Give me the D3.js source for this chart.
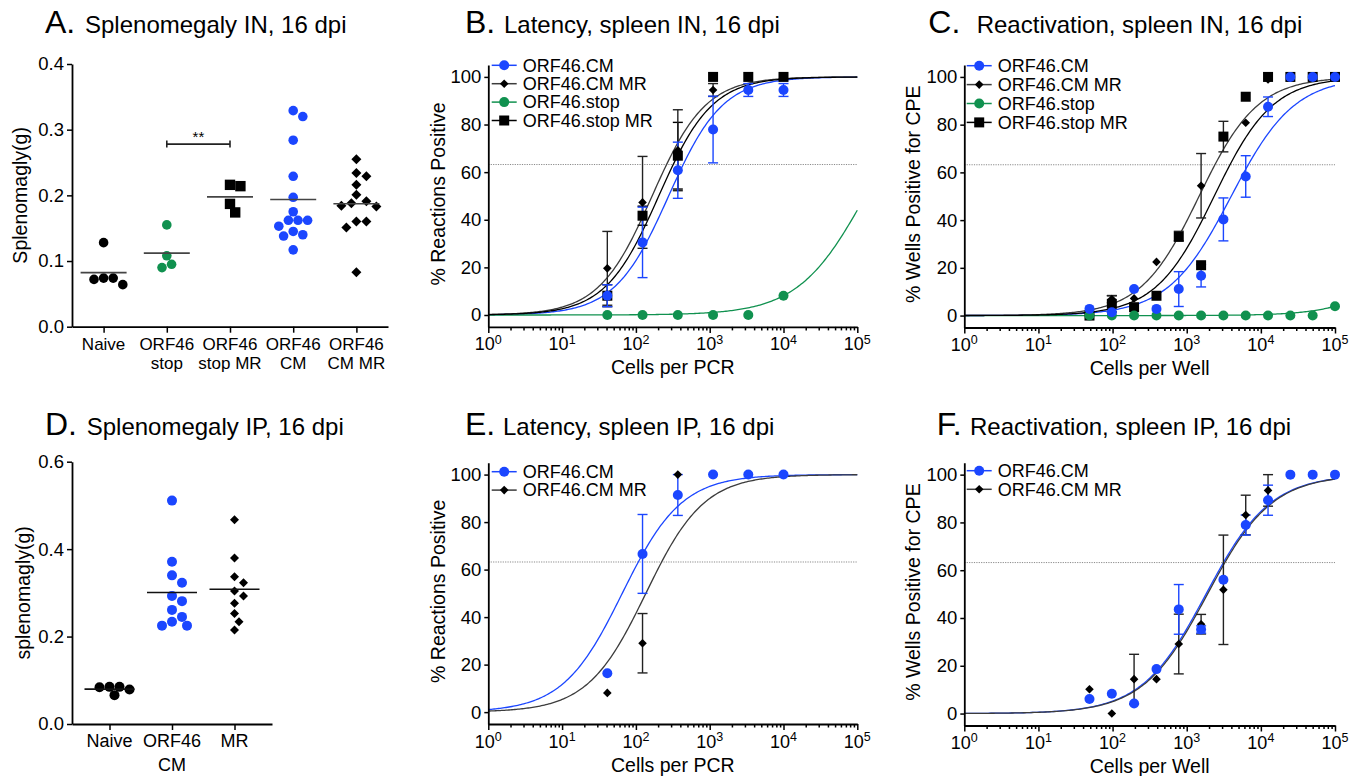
<!doctype html>
<html>
<head>
<style>
  body { margin: 0; background: #fff; }
  svg text { font-family: "Liberation Sans", Arial, Helvetica, sans-serif; }
</style>
</head>
<body>
<svg id="fig" width="1364" height="776"></svg>
<script src="https://d3js.org/d3.v7.min.js"></script>
<script>
// ---------- data ----------
// A. spleen weight (g), intranasal
const splenoINGroups = ['Naive', 'ORF46 stop', 'ORF46 stop MR', 'ORF46 CM', 'ORF46 CM MR'];
const splenoINLabels = [['Naive'], ['ORF46', 'stop'], ['ORF46', 'stop MR'], ['ORF46', 'CM'], ['ORF46', 'CM MR']];
const splenoINNaive = [0.128, 0.074, 0.064, 0.072, 0.074];
const splenoINStop = [0.155, 0.108, 0.090, 0.095];
const splenoINStopMR = [0.216, 0.214, 0.187, 0.174];
const splenoINCM = [0.329, 0.320, 0.284, 0.229, 0.197, 0.175, 0.162, 0.162, 0.162, 0.153, 0.145, 0.140, 0.138, 0.117];
const splenoINCMMR = [0.255, 0.234, 0.229, 0.216, 0.201, 0.191, 0.188, 0.184, 0.183, 0.160, 0.160, 0.151, 0.083];
const splenoINTicks = [0, 0.1, 0.2, 0.3, 0.4];
const splenoINSig = ['ORF46 stop', 'ORF46 stop MR'];
const splenoINSigY = 0.278;

// D. spleen weight (g), intraperitoneal
const splenoIPGroups = ['Naive', 'ORF46', 'MR'];
const splenoIPNaive = [0.085, 0.084, 0.066, 0.079, 0.085];
const splenoIPCM = [0.511, 0.371, 0.340, 0.323, 0.293, 0.281, 0.261, 0.245, 0.234, 0.225, 0.225];
const splenoIPMR = [0.467, 0.380, 0.337, 0.323, 0.304, 0.293, 0.276, 0.253, 0.234, 0.215];
const splenoIPTicks = [0, 0.2, 0.4, 0.6];

// legend / series names
const seriesNames = ['ORF46.CM', 'ORF46.CM MR', 'ORF46.stop', 'ORF46.stop MR'];

// B. latency, spleen IN (% reactions positive)
const latINCells = [41, 123, 370, 1111, 3333, 10000];
const latIN_CM = [8.1, 30.5, 60.8, 77.9, 94.5, 94.5];
const latIN_CM_sem = [4.6, 14.8, 11.8, 14.0, 2.7, 2.7];
const latIN_CMMR = [19.6, 47.3, 69.2, 94.5, 100, 100];
const latIN_CMMR_sem = [15.5, 19.3, 17.0, 2.7, 0, 0];
const latIN_stop = [0, 0, 0, 0, 0, 8.1];
const latIN_stop_sem = [0, 0, 0, 0, 0, 0];
const latIN_stopMR = [8.1, 41.7, 66.9, 100, 100, 100];
const latIN_stopMR_sem = [4.6, 4.0, 14.0, 0, 0, 0];
const latINLogEC50 = [2.444, 2.22, 5.11, 2.31];
const latINHill = [1.19, 1.2, 0.95, 1.2];

// C. reactivation, spleen IN (% wells positive for CPE)
const reactINCells = [48.8, 97.7, 195, 391, 781, 1563, 3125, 6250, 12500, 25000, 50000, 100000];
const reactIN_CM = [2.8, 1.4, 11.1, 2.8, 11.1, 16.7, 40.3, 58.3, 87.5, 100, 100, 100];
const reactIN_CM_sem = [0, 0, 0, 0, 7.3, 4.7, 9.0, 8.7, 4.1, 0, 0, 0];
const reactIN_CMMR = [0.5, 6.9, 7.2, 22.5, 33.3, 54.4, 75, 80.8, 98.9, 100, 100, 100];
const reactIN_CMMR_sem = [0, 1.5, 0, 0, 2.0, 13.5, 6.4, 0, 0, 0, 0, 0];
const reactIN_stop = [0, 0, 0, 0, 0, 0, 0, 0, 0, 0, 0, 3.9];
const reactIN_stop_sem = [0, 0, 0, 0, 0, 0, 0, 0, 0, 0, 0, 0];
const reactIN_stopMR = [0, 4.9, 3.5, 8.3, 33, 21.1, 75, 91.7, 100, 100, 100, 100];
const reactIN_stopMR_sem = [0, 3.4, 0, 0, 0, 0, 0, 0, 0, 0, 0, 0];
const reactINLogEC50 = [3.60, 3.167, 6.39, 3.37];
const reactINHill = [1.02, 1.1, 1.0, 1.1];

// E. latency, spleen IP
const latIPCells = [41, 123, 370, 1111, 3333, 10000];
const latIP_CM = [16.4, 66.6, 91.4, 100, 100, 100];
const latIP_CM_sem = [0, 16.6, 8.6, 0, 0, 0];
const latIP_CMMR = [8.1, 29, 100, 100, 100, 100];
const latIP_CMMR_sem = [0, 12.5, 0, 0, 0, 0];
const latIPLogEC50 = [1.815, 2.135];
const latIPHill = [1.08, 1.1];

// F. reactivation, spleen IP
const reactIPCells = [48.8, 97.7, 195, 391, 781, 1563, 3125, 6250, 12500, 25000, 50000, 100000];
const reactIP_CM = [6.1, 8.3, 4.2, 18.6, 43.6, 35.2, 56, 78.9, 89.3, 100, 100, 100];
const reactIP_CM_sem = [0, 0, 0, 0, 10.4, 1.5, 0, 4.2, 6.3, 0, 0, 0];
const reactIP_CMMR = [10.2, 0, 14.4, 14.4, 29.1, 37.4, 51.8, 83.1, 93.4, 100, 100, 100];
const reactIP_CMMR_sem = [0, 0, 10.4, 0, 12.5, 4.1, 22.9, 8.3, 6.6, 0, 0, 0];
const reactIPLogEC50 = [3.26, 3.28];
const reactIPHill = [1.0, 1.0];

const logTicks = [1, 10, 100, 1000, 10000, 100000];
const pctTicks = [0, 20, 40, 60, 80, 100];
const poissonLine = 63.2;

// ---------- drawing ----------
const BLUE = '#1b46ff', GREEN = '#10914f', BLACK = '#000', GREYLINE = '#3c3c3c';
const svg = d3.select('#fig');
svg.append('rect').attr('width', 1364).attr('height', 776).attr('fill', '#fff');

function title(letter, text, x1, x2, y) {
  svg.append('text').attr('x', x1).attr('y', y).attr('font-size', 32).text(letter);
  svg.append('text').attr('x', x2).attr('y', y).attr('font-size', 24).text(text);
}

function marker(g, shape, cx, cy, color, r) {
  if (shape === 'circle')
    g.append('circle').attr('cx', cx).attr('cy', cy).attr('r', r).attr('fill', color);
  else if (shape === 'square')
    g.append('rect').attr('x', cx - r).attr('y', cy - r).attr('width', 2 * r).attr('height', 2 * r).attr('fill', color);
  else
    g.append('path').attr('d', `M${cx},${cy - r}L${cx + r},${cy}L${cx},${cy + r}L${cx - r},${cy}Z`).attr('fill', color);
}

function styleAxis(g, size) {
  g.attr('font-size', size).attr('font-family', null);
  g.select('.domain').attr('stroke-width', 1.8);
  g.selectAll('.tick line').attr('stroke-width', 1.5);
  g.selectAll('.tick text').attr('fill', '#000');
}

// simple beeswarm: horizontal offsets so markers don't overlap
function swarm(ys, r) {
  const order = ys.map((v, i) => i).sort((a, b) => ys[a] - ys[b]);
  const placed = [], out = new Array(ys.length);
  for (const i of order) {
    for (let k = 0; k < 40; k++) {
      const off = (k % 2 ? 1 : -1) * Math.ceil(k / 2) * r;
      if (placed.every(p => Math.hypot(p[0] - off, p[1] - ys[i]) >= 1.9 * r)) {
        out[i] = off; placed.push([off, ys[i]]); break;
      }
    }
  }
  return out;
}

function yTitle(text, cx, cy, size) {
  svg.append('text').attr('transform', `translate(${cx},${cy}) rotate(-90)`)
    .attr('text-anchor', 'middle').attr('dy', '0.35em').attr('font-size', size).text(text);
}

function dotPanel(o) {
  const x = d3.scalePoint().domain(o.groups).range([o.x0, o.x1]).padding(o.pad);
  const y = d3.scaleLinear().domain([0, o.ticks[o.ticks.length - 1]]).range([o.yBottom, o.yTop]);
  styleAxis(svg.append('g').attr('transform', `translate(${o.x0},0)`)
    .call(d3.axisLeft(y).tickValues(o.ticks).tickFormat(d3.format('.1f')).tickSize(5).tickPadding(3).tickSizeOuter(0)), 18.5);
  styleAxis(svg.append('g').attr('transform', `translate(0,${o.yBottom})`)
    .call(d3.axisBottom(x).tickSize(6).tickFormat('').tickSizeOuter(0)), 17);
  o.labels.forEach((lines, i) => {
    const t = svg.append('text').attr('x', x(o.groups[i])).attr('y', o.labelY)
      .attr('text-anchor', 'middle').attr('font-size', o.labelSize);
    lines.forEach((s, j) => t.append('tspan').attr('x', x(o.groups[i])).attr('dy', j ? o.lineGap : 0).text(s));
  });
  yTitle(o.yTitle, o.yTitleX, (o.yTop + o.yBottom) / 2, 19.5);
  o.sets.forEach((s, i) => {
    const cx = x(o.groups[i]);
    const ys = s.values.map(y);
    const offs = swarm(ys, s.r);
    s.values.forEach((v, j) => marker(svg, s.shape, cx + offs[j], y(v), s.color, s.r));
    const m = d3.mean(s.values);
    svg.append('line').attr('x1', cx - o.meanHalf).attr('x2', cx + o.meanHalf)
      .attr('y1', y(m)).attr('y2', y(m)).attr('stroke', o.meanColor).attr('stroke-width', 1.6);
  });
  return { x, y };
}

function curvePanel(o) {
  const x = d3.scaleLog().domain([1, 1e5]).range([o.x0, o.x1]);
  const y = d3.scaleLinear().domain([-5, 105]).range([o.yBottom, o.yTop]);
  const g = svg.append('g');
  g.append('line').attr('x1', o.x0).attr('x2', o.x1).attr('y1', y(poissonLine)).attr('y2', y(poissonLine))
    .attr('stroke', '#8a8a8a').attr('stroke-width', 1).attr('stroke-dasharray', '1.2,1.2');
  styleAxis(svg.append('g').attr('transform', `translate(${o.x0},0)`)
    .call(d3.axisLeft(y).tickValues(pctTicks).tickSize(4).tickPadding(3).tickSizeOuter(0)), 18.5);
  const minor = [];
  for (let k = 0; k < 5; k++) for (let m = 2; m < 10; m++) minor.push(m * Math.pow(10, k));
  styleAxis(svg.append('g').attr('transform', `translate(0,${o.yBottom})`)
    .call(d3.axisBottom(x).tickValues(minor).tickSize(3.5).tickFormat('').tickSizeOuter(0)), 18);
  const maj = svg.append('g').attr('transform', `translate(0,${o.yBottom})`)
    .call(d3.axisBottom(x).tickValues(logTicks).tickSize(6).tickFormat('').tickSizeOuter(0));
  styleAxis(maj, 18);
  maj.select('.domain').remove();
  logTicks.forEach(v => {
    const t = svg.append('text').attr('x', x(v)).attr('y', o.yBottom + 23.5)
      .attr('text-anchor', 'middle').attr('font-size', 18);
    t.append('tspan').text('10');
    t.append('tspan').attr('font-size', 12.5).attr('dy', -6.8).text(Math.round(Math.log10(v)));
  });
  svg.append('text').attr('x', (o.x0 + o.x1) / 2).attr('y', o.yBottom + 47.5)
    .attr('text-anchor', 'middle').attr('font-size', 19.5).text(o.xTitle);
  yTitle(o.yTitle, o.yTitleX, (o.yTop + o.yBottom) / 2 - 2, 19.5);

  const xs = d3.range(0, 5.0001, 0.02).map(e => Math.pow(10, e));
  o.series.forEach(s => {
    const fit = v => 100 / (1 + Math.pow(10, (s.logEC50 - Math.log10(v)) * s.hill));
    g.append('path').attr('d', d3.line().x(v => x(v)).y(v => y(fit(v)))(xs))
      .attr('fill', 'none').attr('stroke', s.lineColor).attr('stroke-width', 1.3);
  });
  o.drawOrder.forEach(si => {
    const s = o.series[si];
    s.values.forEach((v, j) => {
      const e = s.sem[j];
      if (!e) return;
      const cx = x(o.cells[j]);
      const eb = g.append('g').attr('stroke', s.barColor).attr('stroke-width', 1.4);
      eb.append('line').attr('x1', cx).attr('x2', cx).attr('y1', y(v + e)).attr('y2', y(v - e));
      [v + e, v - e].forEach(w => eb.append('line').attr('x1', cx - 5).attr('x2', cx + 5).attr('y1', y(w)).attr('y2', y(w)));
    });
  });
  o.drawOrder.forEach(si => {
    const s = o.series[si];
    s.values.forEach((v, j) => marker(g, s.shape, x(o.cells[j]), y(v), s.color, s.r));
  });
  // legend
  o.series.forEach((s, i) => {
    const ly = o.legendY + i * o.legendGap;
    svg.append('line').attr('x1', o.legendX).attr('x2', o.legendX + 25).attr('y1', ly).attr('y2', ly)
      .attr('stroke', s.lineColor).attr('stroke-width', 1.5);
    marker(svg, s.shape, o.legendX + 12.5, ly, s.color, s.r);
    svg.append('text').attr('x', o.legendX + 31).attr('y', ly).attr('dy', '0.35em')
      .attr('font-size', 18).text(s.name);
  });
}

function mkSeries(values, sem, logEC50, hill, kind) {
  const styles = {
    CM: { color: BLUE, lineColor: BLUE, barColor: BLUE, shape: 'circle', r: 5 },
    CMMR: { color: BLACK, lineColor: GREYLINE, barColor: '#222', shape: 'diamond', r: 4.3 },
    stop: { color: GREEN, lineColor: GREEN, barColor: GREEN, shape: 'circle', r: 5 },
    stopMR: { color: BLACK, lineColor: BLACK, barColor: BLACK, shape: 'square', r: 5 }
  };
  return Object.assign({ values, sem, logEC50, hill }, styles[kind]);
}

// ---------- panel A ----------
title('A.', 'Splenomegaly IN, 16 dpi', 45, 85, 33);
const pA = dotPanel({
  groups: splenoINGroups, labels: splenoINLabels, ticks: splenoINTicks,
  x0: 72, x1: 388, pad: 0.5, yTop: 64, yBottom: 326.7,
  labelY: 350, lineGap: 19.3, labelSize: 17, yTitle: 'Splenomagly(g)', yTitleX: 20,
  meanHalf: 23, meanColor: '#444',
  sets: [
    { values: splenoINNaive, shape: 'circle', color: BLACK, r: 4.8 },
    { values: splenoINStop, shape: 'circle', color: GREEN, r: 4.8 },
    { values: splenoINStopMR, shape: 'square', color: BLACK, r: 5.2 },
    { values: splenoINCM, shape: 'circle', color: BLUE, r: 4.8 },
    { values: splenoINCMMR, shape: 'diamond', color: BLACK, r: 5 }
  ]
});
{
  const x1 = pA.x(splenoINSig[0]), x2 = pA.x(splenoINSig[1]), sy = pA.y(splenoINSigY);
  const sg = svg.append('g').attr('stroke', '#222').attr('stroke-width', 1.6);
  sg.append('line').attr('x1', x1).attr('x2', x2).attr('y1', sy).attr('y2', sy);
  [x1, x2].forEach(v => sg.append('line').attr('x1', v).attr('x2', v).attr('y1', sy - 3.5).attr('y2', sy + 3.5));
  svg.append('text').attr('x', (x1 + x2) / 2).attr('y', sy - 2).attr('text-anchor', 'middle')
    .attr('font-size', 15).text('**');
}

// ---------- panel D ----------
title('D.', 'Splenomegaly IP, 16 dpi', 45, 86.7, 434.5);
dotPanel({
  groups: splenoIPGroups, labels: [['Naive'], ['ORF46', 'CM'], ['MR']], ticks: splenoIPTicks,
  x0: 72, x1: 272, pad: 0.6, yTop: 461.7, yBottom: 724,
  labelY: 746.7, lineGap: 24.5, labelSize: 18, yTitle: 'splenomagly(g)', yTitleX: 23,
  meanHalf: 25, meanColor: '#111',
  sets: [
    { values: splenoIPNaive, shape: 'circle', color: BLACK, r: 5 },
    { values: splenoIPCM, shape: 'circle', color: BLUE, r: 5 },
    { values: splenoIPMR, shape: 'diamond', color: BLACK, r: 4.5 }
  ]
});

// ---------- panel B ----------
title('B.', 'Latency, spleen IN, 16 dpi', 465, 504, 33);
curvePanel({
  x0: 488.3, x1: 857.3, yTop: 65, yBottom: 326.9, cells: latINCells,
  xTitle: 'Cells per PCR', yTitle: '% Reactions Positive', yTitleX: 438,
  legendX: 491.7, legendY: 65.3, legendGap: 18.4, drawOrder: [3, 1, 2, 0],
  series: [
    mkSeries(latIN_CM, latIN_CM_sem, latINLogEC50[0], latINHill[0], 'CM'),
    mkSeries(latIN_CMMR, latIN_CMMR_sem, latINLogEC50[1], latINHill[1], 'CMMR'),
    mkSeries(latIN_stop, latIN_stop_sem, latINLogEC50[2], latINHill[2], 'stop'),
    mkSeries(latIN_stopMR, latIN_stopMR_sem, latINLogEC50[3], latINHill[3], 'stopMR')
  ].map((s, i) => Object.assign(s, { name: seriesNames[i] }))
});

// ---------- panel C ----------
title('C.', 'Reactivation, spleen IN, 16 dpi', 928.3, 976.7, 33);
curvePanel({
  x0: 964.3, x1: 1335, yTop: 65, yBottom: 327.5, cells: reactINCells,
  xTitle: 'Cells per Well', yTitle: '% Wells Positive for CPE', yTitleX: 913,
  legendX: 966.7, legendY: 65.7, legendGap: 18.9, drawOrder: [3, 1, 2, 0],
  series: [
    mkSeries(reactIN_CM, reactIN_CM_sem, reactINLogEC50[0], reactINHill[0], 'CM'),
    mkSeries(reactIN_CMMR, reactIN_CMMR_sem, reactINLogEC50[1], reactINHill[1], 'CMMR'),
    mkSeries(reactIN_stop, reactIN_stop_sem, reactINLogEC50[2], reactINHill[2], 'stop'),
    mkSeries(reactIN_stopMR, reactIN_stopMR_sem, reactINLogEC50[3], reactINHill[3], 'stopMR')
  ].map((s, i) => Object.assign(s, { name: seriesNames[i] }))
});

// ---------- panel E ----------
title('E.', 'Latency, spleen IP, 16 dpi', 465, 503, 434.5);
curvePanel({
  x0: 488.3, x1: 857.3, yTop: 462.7, yBottom: 724, cells: latIPCells,
  xTitle: 'Cells per PCR', yTitle: '% Reactions Positive', yTitleX: 438,
  legendX: 491.7, legendY: 471.7, legendGap: 18.4, drawOrder: [1, 0],
  series: [
    mkSeries(latIP_CM, latIP_CM_sem, latIPLogEC50[0], latIPHill[0], 'CM'),
    mkSeries(latIP_CMMR, latIP_CMMR_sem, latIPLogEC50[1], latIPHill[1], 'CMMR')
  ].map((s, i) => Object.assign(s, { name: seriesNames[i] }))
});

// ---------- panel F ----------
title('F.', 'Reactivation, spleen IP, 16 dpi', 936.7, 970, 434.5);
curvePanel({
  x0: 964.3, x1: 1335, yTop: 462.7, yBottom: 725.5, cells: reactIPCells,
  xTitle: 'Cells per Well', yTitle: '% Wells Positive for CPE', yTitleX: 913,
  legendX: 966.7, legendY: 470.7, legendGap: 18.6, drawOrder: [1, 0],
  series: [
    mkSeries(reactIP_CM, reactIP_CM_sem, reactIPLogEC50[0], reactIPHill[0], 'CM'),
    mkSeries(reactIP_CMMR, reactIP_CMMR_sem, reactIPLogEC50[1], reactIPHill[1], 'CMMR')
  ].map((s, i) => Object.assign(s, { name: seriesNames[i] }))
});
</script>
</body>
</html>
